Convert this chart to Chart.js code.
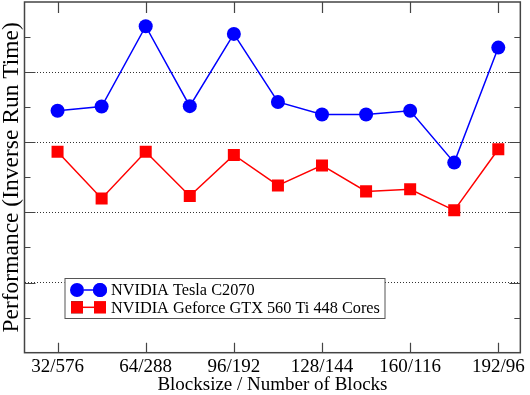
<!DOCTYPE html>
<html>
<head>
<meta charset="utf-8">
<script src="https://cdn.jsdelivr.net/npm/chart.js@4/dist/chart.umd.min.js"></script>
<style>
  html, body { margin: 0; padding: 0; background: #fff; }
  #contenedor { width: 530px; height: 395px; }
</style>
</head>
<body>
<div id="contenedor"><canvas id="grafico"></canvas></div>
<script>
// Datos
const blocksizes = [32, 48, 64, 80, 96, 112, 128, 144, 160, 176, 192];
const tesla = [6.90, 7.02, 9.31, 7.03, 9.09, 7.15, 6.79, 6.79, 6.90, 5.42, 8.70];
const geforce = [5.73, 4.40, 5.73, 4.47, 5.64, 4.77, 5.34, 4.60, 4.66, 4.06, 5.80];
const tickValues = [32, 64, 96, 128, 160, 192];
const tickLabels = ['32/576', '64/288', '96/192', '128/144', '160/116', '192/96'];
const seriesNames = ['NVIDIA Tesla C2070', 'NVIDIA Geforce GTX 560 Ti 448 Cores'];

const fuente = 'Liberation Serif';
const colorMarco = '#444';

const puntos = (ys) => blocksizes.map((x, i) => ({ x: x, y: ys[i] }));

// Marco, marcas hacia dentro y leyenda (estilo gnuplot)
const marcoGnuplot = {
    id: 'marcoGnuplot',
    afterDraw(chart) {
        const { ctx, chartArea: a, scales } = chart;
        ctx.save();
        ctx.strokeStyle = colorMarco;
        ctx.lineWidth = 1.2;
        ctx.setLineDash([]);
        ctx.beginPath();
        tickValues.forEach(v => {
            const x = Math.round(scales.x.getPixelForValue(v)) + 0.5;
            ctx.moveTo(x, a.bottom); ctx.lineTo(x, a.bottom - 10);
            ctx.moveTo(x, a.top); ctx.lineTo(x, a.top + 11);
        });
        for (let v = 1; v < 10; v++) {
            const y = Math.round(scales.y.getPixelForValue(v)) + 0.5;
            const largo = v % 2 === 0 ? 11 : 6;
            ctx.moveTo(a.left, y); ctx.lineTo(a.left + largo, y);
            ctx.moveTo(a.right, y); ctx.lineTo(a.right - largo, y);
        }
        ctx.stroke();
        ctx.lineWidth = 1.5;
        ctx.strokeRect(a.left, a.top, a.right - a.left, a.bottom - a.top);

        // leyenda
        const bx = a.left + 40, by = a.top + 276, bw = 320, bh = 40;
        ctx.fillStyle = '#fff';
        ctx.fillRect(bx, by, bw, bh);
        ctx.lineWidth = 1;
        ctx.strokeStyle = '#555';
        ctx.strokeRect(bx + 0.5, by + 0.5, bw, bh);
        chart.data.datasets.forEach((ds, i) => {
            const y = by + 12 + i * 17.3;
            ctx.strokeStyle = ds.borderColor;
            ctx.lineWidth = ds.borderWidth;
            ctx.beginPath();
            ctx.moveTo(bx + 12.5, y); ctx.lineTo(bx + 35.5, y);
            ctx.stroke();
            [bx + 12.5, bx + 35.5].forEach(px => {
                Chart.helpers.drawPoint(ctx, {
                    pointStyle: ds.pointStyle, radius: ds.pointRadius,
                    rotation: 0, borderWidth: 0
                }, px, y);
                ctx.fillStyle = ds.pointBackgroundColor;
                ctx.fill();
            });
            ctx.fillStyle = '#000';
            ctx.font = '16.3px "' + fuente + '"';
            ctx.textBaseline = 'middle';
            ctx.textAlign = 'left';
            ctx.fillText(ds.label, bx + 46.5, y + 1);
        });
        ctx.restore();
    }
};

new Chart(document.getElementById('grafico'), {
    type: 'line',
    data: {
        datasets: [{
            label: seriesNames[0],
            data: puntos(tesla),
            borderColor: '#0000ff',
            backgroundColor: '#0000ff',
            pointBackgroundColor: '#0000ff',
            pointBorderWidth: 0,
            pointStyle: 'circle',
            pointRadius: 7,
            borderWidth: 1.5
        }, {
            label: seriesNames[1],
            data: puntos(geforce),
            borderColor: '#ff0000',
            backgroundColor: '#ff0000',
            pointBackgroundColor: '#ff0000',
            pointBorderWidth: 0,
            pointStyle: 'rect',
            pointRadius: 8.5,
            borderWidth: 1.5
        }]
    },
    options: {
        responsive: true,
        maintainAspectRatio: false,
        animation: false,
        layout: { autoPadding: false, padding: { top: 2, right: 7, left: 0, bottom: 0 } },
        plugins: {
            legend: { display: false },
            tooltip: { enabled: false }
        },
        scales: {
            x: {
                type: 'linear',
                min: 20,
                max: 200,
                afterBuildTicks: (scale) => {
                    scale.ticks = tickValues.map(v => ({ value: v }));
                },
                afterFit: (scale) => { scale.height = 42.3; },
                ticks: {
                    autoSkip: false,
                    maxRotation: 0,
                    color: '#000',
                    padding: 5,
                    font: { family: fuente, size: 19, lineHeight: 1 },
                    callback: (v) => tickLabels[tickValues.indexOf(v)]
                },
                grid: { display: false, drawTicks: false },
                border: { display: false },
                title: {
                    display: true,
                    text: 'Blocksize / Number of Blocks',
                    color: '#000',
                    padding: { top: 1, bottom: 0 },
                    font: { family: fuente, size: 19, lineHeight: 1 }
                }
            },
            y: {
                min: 0,
                max: 10,
                afterFit: (scale) => { scale.width = 24.5; },
                ticks: { display: false, stepSize: 1 },
                grid: {
                    drawTicks: false,
                    color: (c) => (c.tick && c.tick.value % 2 === 0 && c.tick.value > 0 && c.tick.value < 10) ? '#333' : 'rgba(0,0,0,0)',
                    lineWidth: 1
                },
                border: { display: false, dash: [1, 2] },
                title: {
                    display: true,
                    text: 'Performance (Inverse Run Time)',
                    color: '#000',
                    padding: { top: 0.5, bottom: 0 },
                    font: { family: fuente, size: 23.5, lineHeight: 1 }
                }
            }
        }
    },
    plugins: [marcoGnuplot]
});
</script>
</body>
</html>
